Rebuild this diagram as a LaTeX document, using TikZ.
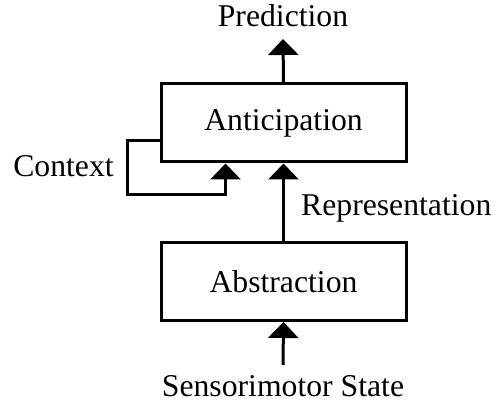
\documentclass[tikz,border=0pt]{standalone}
\usepackage{fontspec}
\setmainfont{Liberation Serif}
\usetikzlibrary{arrows.meta}
\begin{document}
\begin{tikzpicture}[x=1pt,y=1pt,
  every node/.style={font=\fontsize{31.7}{38}\selectfont},
  block/.style={draw, line width=3pt, rectangle, minimum width=245pt, minimum height=78pt, inner sep=0pt},
  flow/.style={line width=3pt, -{Triangle[width=30pt,length=16pt]}}]
\useasboundingbox (0,0) rectangle (495,404);
\node[block] (ant) at (283.5,281) {Anticipation};
\node[block] (abs) at (283.5,122.5) {Abstraction};
\node[anchor=base, inner sep=0pt] (pred) at (283,377) {Prediction};
\node[anchor=base, inner sep=0pt] (sens) at (283,7) {Sensorimotor State};
\node[anchor=base, inner sep=0pt] (ctx) at (63.5,227) {Context};
\node[anchor=base west, inner sep=0pt] (rep) at (301,188) {Representation};
\coordinate (predtip) at (283,365);
\coordinate (sensin) at (283,39);
% output, input and internal flows
\draw[flow] (ant.north) -- (predtip);
\draw[flow] (abs.north) -- (ant.south);
\draw[flow] (sensin) -- (abs.south);
% context feedback loop
\draw[flow] ([yshift=23pt]ant.south west) -| (127,209) -| ([xshift=66pt]ant.south west);
\end{tikzpicture}
\end{document}
